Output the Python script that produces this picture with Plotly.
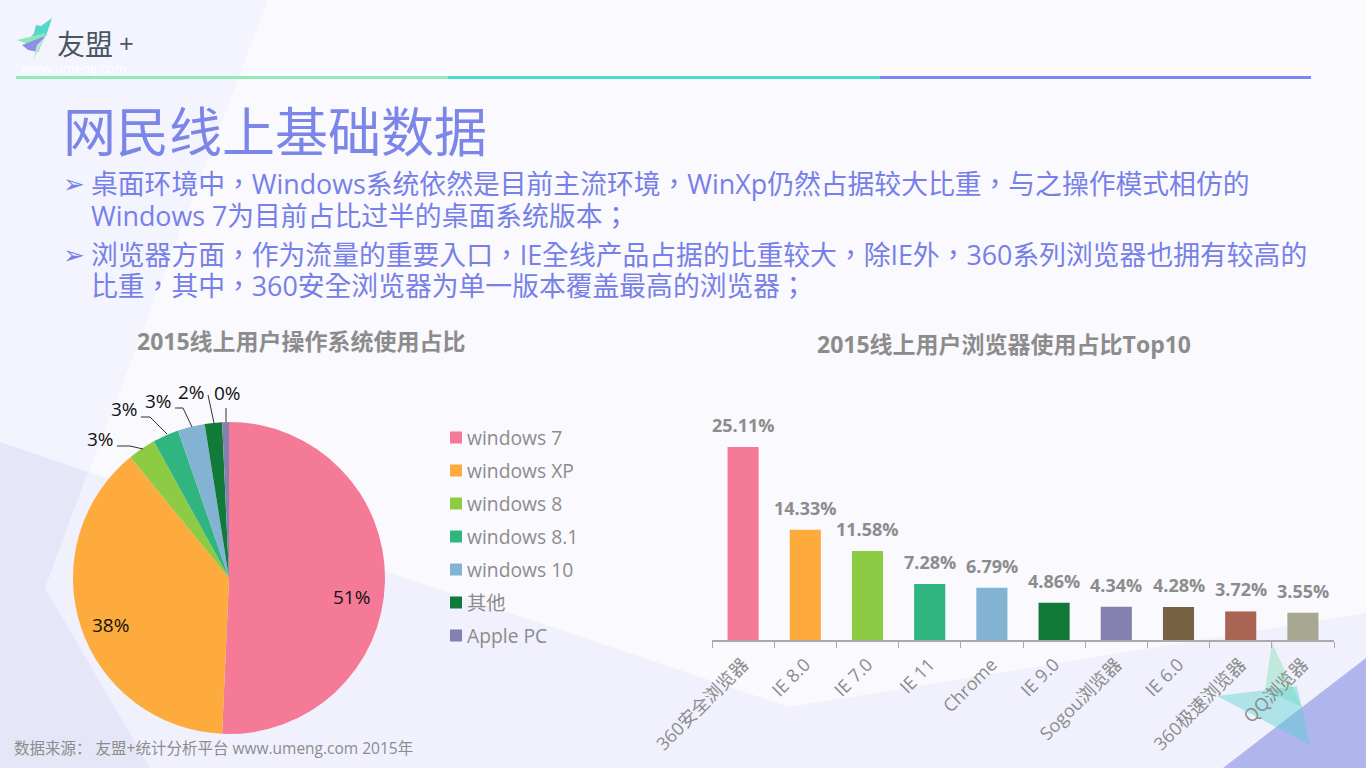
import plotly.graph_objects as go

W, H = 1366, 768
FONT = '"Open Sans", "Noto Sans CJK SC", sans-serif'
BODY = '"Open Sans", "Noto Sans CJK TC", sans-serif'
CJK = '"Noto Sans CJK SC", sans-serif'

# ---- data ----
os_labels = ["windows 7", "windows XP", "windows 8", "windows 8.1", "windows 10", "其他", "Apple PC"]
os_values = [50.7, 38.4, 2.9, 2.7, 2.8, 1.8, 0.7]
os_colors = ["#f47a97", "#fdab3d", "#8ecb45", "#31b580", "#82b3d3", "#127a38", "#8481b0"]
os_pct = ["51%", "38%", "3%", "3%", "3%", "2%", "0%"]

br_labels = ["360安全浏览器", "IE 8.0", "IE 7.0", "IE 11", "Chrome", "IE 9.0", "Sogou浏览器", "IE 6.0", "360极速浏览器", "QQ浏览器"]
br_values = [25.11, 14.33, 11.58, 7.28, 6.79, 4.86, 4.34, 4.28, 3.72, 3.55]
br_colors = ["#f47a97", "#fdab3d", "#8ecb45", "#31b580", "#82b3d3", "#127a38", "#8481b0", "#766242", "#a96453", "#a8a892"]

title = "网民线上基础数据"
body_lines = [
    "桌面环境中，Windows系统依然是目前主流环境，WinXp仍然占据较大比重，与之操作模式相仿的",
    "Windows 7为目前占比过半的桌面系统版本；",
    "浏览器方面，作为流量的重要入口，IE全线产品占据的比重较大，除IE外，360系列浏览器也拥有较高的",
    "比重，其中，360安全浏览器为单一版本覆盖最高的浏览器；",
]
body_y = [183, 215, 254, 286]
bullet_y = [184, 255]
chart_title_os = "2015线上用户操作系统使用占比"
chart_title_br = "2015线上用户浏览器使用占比Top10"
source = "数据来源： 友盟+统计分析平台 www.umeng.com 2015年"

# ---- helpers (pixel positions to paper fractions) ----
px = lambda x: x / W
py = lambda y: 1 - y / H


def poly(pts, color, layer="below"):
    d = "M" + " L".join(f"{px(x):.5f},{py(y):.5f}" for x, y in pts) + " Z"
    return dict(type="path", xref="paper", yref="paper", path=d, fillcolor=color,
                line=dict(width=0), layer=layer)


def polyline(pts, color="#333333", width=1):
    d = "M" + " L".join(f"{px(x):.5f},{py(y):.5f}" for x, y in pts)
    return dict(type="path", xref="paper", yref="paper", path=d, line=dict(color=color, width=width), layer="above")


def label(x, y, text, size, color, anchor="left", font=FONT, bold=False):
    t = f"<b>{text}</b>" if bold else text
    return dict(xref="paper", yref="paper", x=px(x), y=py(y), text=t, showarrow=False,
                xanchor=anchor, yanchor="middle", font=dict(size=size, color=color, family=font),
                borderpad=0, borderwidth=0)


shapes = [
    # background decoration
    poly([(0, 0), (268, 0), (45, 588), (150, 768), (0, 768)], "#f3f4fd"),
    poly([(0, 442), (789, 707), (1366, 613), (1366, 768), (0, 768)], "#f0f1fc"),
    poly([(0, 442), (88, 472), (45, 588), (150, 768), (0, 768)], "#e5e7f9"),
    poly([(1366, 658), (1366, 768), (1223, 768)], "#b1b5ee"),
    poly([(1272, 643), (1265, 690), (1302, 707)], "rgba(130,225,185,0.45)"),
    poly([(1217, 696), (1297, 686), (1310, 745)], "rgba(75,210,205,0.40)"),
    # header rule
    poly([(16, 76), (448, 76), (448, 79), (16, 79)], "#8fecb8"),
    poly([(448, 76), (880, 76), (880, 79), (448, 79)], "#48dccb"),
    poly([(880, 76), (1311, 76), (1311, 79), (880, 79)], "#7b84f0"),
    # logo
    poly([(52, 18), (41, 26), (36, 25), (34, 33), (30, 38), (46, 36)], "#55d8c8"),
    poly([(17, 40), (46, 33), (40, 45), (25, 43)], "#90e8b8"),
    poly([(22, 45), (45, 36), (38, 52), (28, 50)], "#8b8fe6"),
    poly([(46, 36), (33, 60), (37, 45)], "#b4eccb"),
    # pie leader lines
    polyline([(117, 446), (130, 446), (143, 449)]),
    polyline([(141, 417), (150, 417), (167, 434)]),
    polyline([(175, 408), (183, 408), (192, 427)]),
    polyline([(208, 395), (214, 423)]),
    polyline([(226, 408), (226, 422)]),
]

annotations = [
    label(57, 43, "友盟", 28, "#4a5560", font=CJK),
    label(119, 43, "+", 26, "#4a5560"),
    label(21, 68, "www.umeng.com", 13, "#ffffff"),
    label(63, 128.5, title, 53, "#7b86e8", font=CJK),
    label(137, 341, chart_title_os, 23, "#8c8c8c", bold=True),
    label(817, 344, chart_title_br, 23, "#8c8c8c", bold=True),
    label(14, 748, source, 15.5, "#8c8c8c"),
    # pie percentages
    label(351, 597, os_pct[0], 19, "#111111", "center"),
    label(110, 625, os_pct[1], 19, "#111111", "center"),
    label(100, 439, os_pct[2], 19, "#111111", "center"),
    label(124, 409, os_pct[3], 19, "#111111", "center"),
    label(158, 401, os_pct[4], 19, "#111111", "center"),
    label(191, 392, os_pct[5], 19, "#111111", "center"),
    label(227, 393, os_pct[6], 19, "#111111", "center"),
]
for line, y in zip(body_lines, body_y):
    annotations.append(label(91, y, line, 26.8, "#7680e8", font=BODY))
for y in bullet_y:
    annotations.append(label(63, y, "➢", 26, "#7680e8", font="DejaVu Sans"))

# hand-spaced legend for the pie
for i, (name, col) in enumerate(zip(os_labels, os_colors)):
    y = 437.5 + i * 33
    shapes.append(poly([(450, y - 6), (462, y - 6), (462, y + 6), (450, y + 6)], col))
    annotations.append(label(467, y - 0.5, name, 19.3, "#8c8c8c"))

# bar value labels, placed through the data axes
for name, v in zip(br_labels, br_values):
    annotations.append(dict(xref="x", yref="y", x=name, y=v, yshift=22, text=f"<b>{v:.2f}%</b>",
                            showarrow=False, xanchor="center", yanchor="middle",
                            font=dict(size=18, color="#8c8c8c", family=FONT)))

pie = go.Pie(labels=os_labels, values=os_values, sort=False, direction="clockwise", rotation=0,
             marker=dict(colors=os_colors, line=dict(width=0)), textinfo="none", showlegend=False,
             domain=dict(x=[px(73), px(385)], y=[py(734), py(422)]), hoverinfo="label+percent")

bar = go.Bar(x=br_labels, y=br_values, marker=dict(color=br_colors, line=dict(width=0)), showlegend=False)

PER_UNIT = 193 / 25.11
Y_MAX = 30
fig = go.Figure([pie, bar])
fig.update_layout(
    width=W, height=H, autosize=False, margin=dict(l=0, r=0, t=0, b=0, autoexpand=False),
    paper_bgcolor="#f9f9fe", plot_bgcolor="rgba(0,0,0,0)", bargap=0.5,
    shapes=shapes, annotations=annotations, showlegend=False,
    xaxis=dict(domain=[px(712), px(1334)], range=[-0.5, 9.5], type="category", tickangle=-45,
               ticks="outside", ticklen=6, tickcolor="#aaaaaa", tickwidth=1, showline=True,
               linecolor="#aaaaaa", linewidth=2, showgrid=False, zeroline=False, automargin=False,
               tickson="boundaries", ticklabelstandoff=5,
               tickfont=dict(size=18, color="#8c8c8c", family=FONT), anchor="y"),
    yaxis=dict(domain=[py(640), py(640 - Y_MAX * PER_UNIT)], range=[0, Y_MAX], visible=False,
               automargin=False, anchor="x"),
)
fig.write_html("out.html", config=dict(displayModeBar=False),
               post_script="document.body.style.margin='0';document.body.style.overflow='hidden';")
